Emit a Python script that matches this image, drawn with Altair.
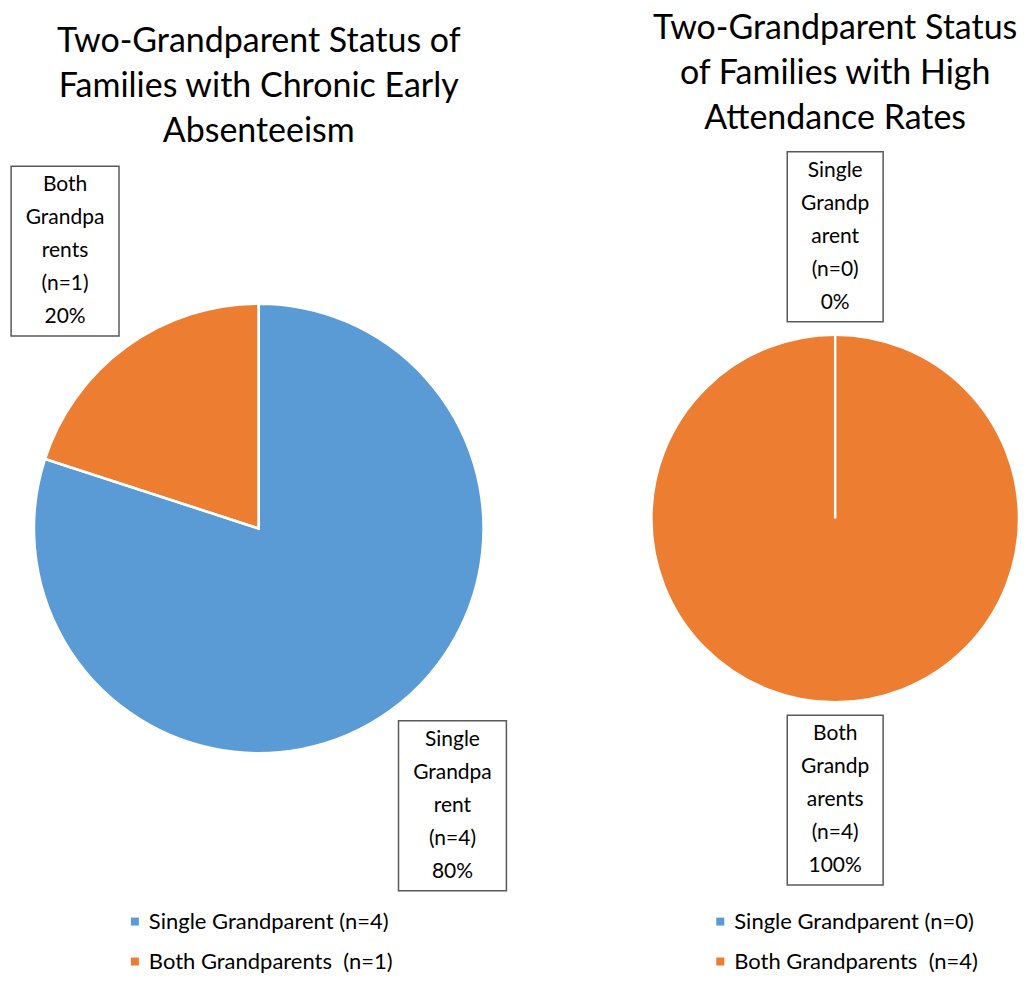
import altair as alt
import pandas as pd
import numpy as np

FONT = "Lato"
BLUE = "#5B9BD5"
ORANGE = "#ED7D31"
BOX = "#595959"

# ---- data ----
categories = ["Single Grandparent", "Both Grandparents"]
chronic_counts = [4, 1]
high_counts = [0, 4]
chronic_pct = ["80%", "20%"]
high_pct = ["0%", "100%"]
chronic_label_lines = [["Single", "Grandpa", "rent", "(n=4)"], ["Both", "Grandpa", "rents", "(n=1)"]]
high_label_lines = [["Single", "Grandp", "arent", "(n=0)"], ["Both", "Grandp", "arents", "(n=4)"]]
chronic_legend = ["Single Grandparent (n=4)", "Both Grandparents \u00a0(n=1)"]
high_legend = ["Single Grandparent (n=0)", "Both Grandparents \u00a0(n=4)"]
chronic_title = ["Two-Grandparent Status of", "Families with Chronic Early", "Absenteeism"]
high_title = ["Two-Grandparent Status", "of Families with High", "Attendance Rates"]


def panel(counts, pct, lines, legend, title, W, H, R, gap, hw, hh,
          title_offset, legend_x, legend_y):
    c = np.array(counts, dtype=float)
    share = c / c.sum()
    end = np.cumsum(share) * 2 * np.pi
    start = end - share * 2 * np.pi
    mid = (start + end) / 2
    s = np.round(np.sin(mid), 6)
    co = np.round(np.cos(mid), 6)
    rc = R + gap
    cx = rc * np.sin(mid) + np.sign(s) * hw
    cy = rc * np.cos(mid) + np.sign(co) * hh
    df = pd.DataFrame({
        "idx": list(range(len(counts))),
        "cat": categories,
        "legend": legend,
        "count": counts,
        "label": ["\n".join(l + [p]) for l, p in zip(lines, pct)],
        "cx": cx, "cy": cy,
        "x1": cx - hw, "x2": cx + hw,
        "y1": cy - hh, "y2": cy + hh,
    })
    xs = alt.Scale(domain=[-W / 2, W / 2], nice=False, zero=False)
    ys = alt.Scale(domain=[-H / 2, H / 2], nice=False, zero=False)
    base = alt.Chart(df)
    pie = base.mark_arc(outerRadius=R).encode(
        theta=alt.Theta("count:Q", stack=True),
        order=alt.Order("idx:Q"),
        color=alt.Color("legend:N",
                        scale=alt.Scale(domain=legend, range=[BLUE, ORANGE]),
                        legend=alt.Legend(title=None, orient="none",
                                          legendX=legend_x, legendY=legend_y,
                                          direction="vertical",
                                          symbolType="square", symbolSize=64,
                                          symbolStrokeWidth=0,
                                          labelFont=FONT, labelFontSize=22,
                                          labelColor="black", labelLimit=400,
                                          labelOffset=3, rowPadding=18)),
    )
    edges = base.mark_arc(outerRadius=R, fillOpacity=0, stroke="white",
                          strokeWidth=2.5).encode(
        theta=alt.Theta("count:Q", stack=True),
        order=alt.Order("idx:Q"),
    )
    boxes = base.mark_rect(fill="white", stroke=BOX, strokeWidth=1.5).encode(
        x=alt.X("x1:Q", scale=xs, axis=None),
        x2="x2:Q",
        y=alt.Y("y1:Q", scale=ys, axis=None),
        y2="y2:Q",
    )
    texts = base.mark_text(font=FONT, fontSize=21, lineHeight=33, lineBreak="\n",
                           color="black", align="center", baseline="middle",
                           dy=-66).encode(
        x=alt.X("cx:Q", scale=xs, axis=None),
        y=alt.Y("cy:Q", scale=ys, axis=None),
        text="label:N",
    )
    return alt.layer(pie, edges, boxes, texts).properties(
        width=W, height=H,
        title=alt.TitleParams(text=title, font=FONT, fontSize=34,
                              fontWeight="normal", color="black",
                              lineHeight=45, anchor="middle",
                              offset=title_offset),
    )


left = panel(chronic_counts, chronic_pct, chronic_label_lines, chronic_legend,
             chronic_title, W=502, H=761, R=225, gap=13, hw=54, hh=85,
             title_offset=-1, legend_x=116, legend_y=763)
right = panel(high_counts, high_pct, high_label_lines, high_legend,
              high_title, W=368, H=741, R=184, gap=13, hw=48, hh=85,
              title_offset=12, legend_x=58, legend_y=763)

chart = alt.hconcat(left, right, spacing=142, bounds="flush").resolve_scale(
    color="independent", theta="independent", x="independent", y="independent"
).properties(padding={"top": 4, "left": 0, "right": 0, "bottom": 0}
).configure_view(strokeWidth=0)

chart.save("out.html", embed_options={"renderer": "svg", "actions": False})
